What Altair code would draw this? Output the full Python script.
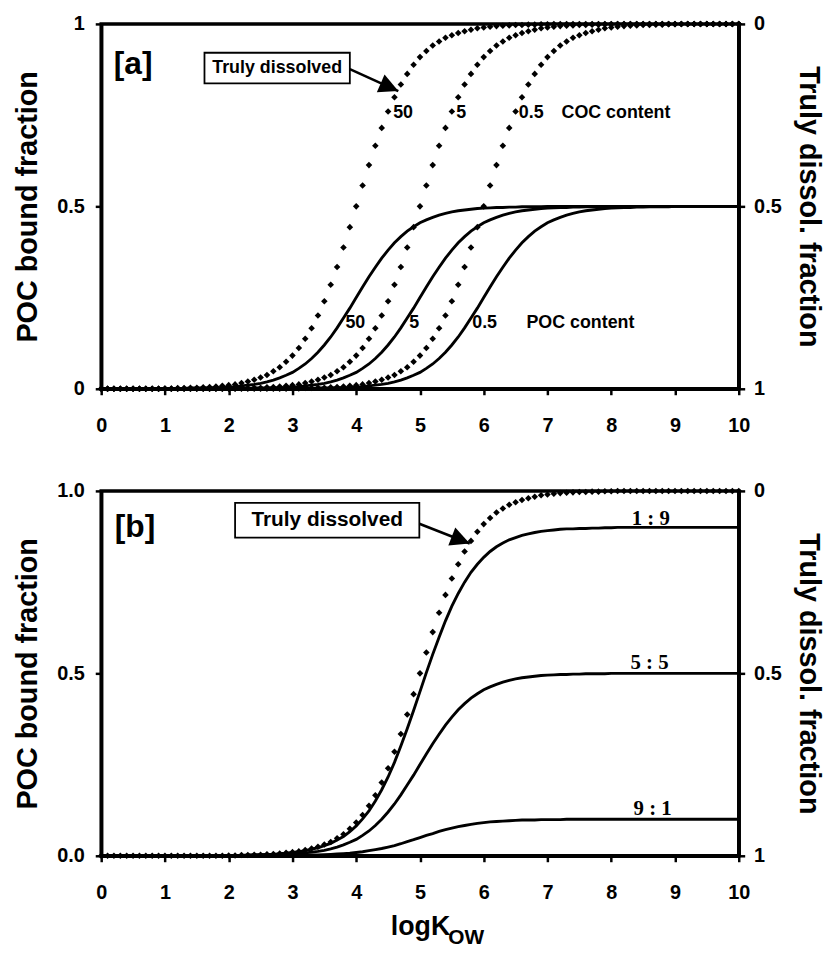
import altair as alt
import pandas as pd

# ---------------- data ----------------
LOGKOW = [0.0, 0.1, 0.2, 0.3, 0.4, 0.5, 0.6, 0.7, 0.8, 0.9,
          1.0, 1.1, 1.2, 1.3, 1.4, 1.5, 1.6, 1.7, 1.8, 1.9,
          2.0, 2.1, 2.2, 2.3, 2.4, 2.5, 2.6, 2.7, 2.8, 2.9,
          3.0, 3.1, 3.2, 3.3, 3.4, 3.5, 3.6, 3.7, 3.8, 3.9,
          4.0, 4.1, 4.2, 4.3, 4.4, 4.5, 4.6, 4.7, 4.8, 4.9,
          5.0, 5.1, 5.2, 5.3, 5.4, 5.5, 5.6, 5.7, 5.8, 5.9,
          6.0, 6.1, 6.2, 6.3, 6.4, 6.5, 6.6, 6.7, 6.8, 6.9,
          7.0, 7.1, 7.2, 7.3, 7.4, 7.5, 7.6, 7.7, 7.8, 7.9,
          8.0, 8.1, 8.2, 8.3, 8.4, 8.5, 8.6, 8.7, 8.8, 8.9,
          9.0, 9.1, 9.2, 9.3, 9.4, 9.5, 9.6, 9.7, 9.8, 9.9,
          10.0]

# Panel a - truly dissolved fraction (right axis), COC content 50 / 5 / 0.5
DISS_A_50 = [1, 1, 1, 1, 1, 1, 1, 1, 1, 1,
             0.999, 0.999, 0.998, 0.998, 0.997, 0.997, 0.996, 0.995, 0.994, 0.992,
             0.990, 0.988, 0.984, 0.980, 0.975, 0.969, 0.962, 0.952, 0.941, 0.926,
             0.909, 0.888, 0.863, 0.834, 0.799, 0.760, 0.715, 0.666, 0.613, 0.557,
             0.500, 0.443, 0.387, 0.334, 0.285, 0.240, 0.201, 0.166, 0.137, 0.112,
             0.091, 0.074, 0.059, 0.048, 0.038, 0.031, 0.025, 0.020, 0.016, 0.012,
             0.010, 0.008, 0.006, 0.005, 0.004, 0.003, 0.003, 0.002, 0.002, 0.001,
             0.001, 0, 0, 0, 0, 0, 0, 0, 0, 0,
             0, 0, 0, 0, 0, 0, 0, 0, 0, 0,
             0, 0, 0, 0, 0, 0, 0, 0, 0, 0,
             0]
DISS_A_5 = [1, 1, 1, 1, 1, 1, 1, 1, 1, 1,
            1, 1, 1, 1, 1, 1, 1, 1, 1, 1,
            0.999, 0.999, 0.998, 0.998, 0.997, 0.997, 0.996, 0.995, 0.994, 0.992,
            0.990, 0.988, 0.984, 0.980, 0.975, 0.969, 0.962, 0.952, 0.941, 0.926,
            0.909, 0.888, 0.863, 0.834, 0.799, 0.760, 0.715, 0.666, 0.613, 0.557,
            0.500, 0.443, 0.387, 0.334, 0.285, 0.240, 0.201, 0.166, 0.137, 0.112,
            0.091, 0.074, 0.059, 0.048, 0.038, 0.031, 0.025, 0.020, 0.016, 0.012,
            0.010, 0.008, 0.006, 0.005, 0.004, 0.003, 0.003, 0.002, 0.002, 0.001,
            0.001, 0, 0, 0, 0, 0, 0, 0, 0, 0,
            0, 0, 0, 0, 0, 0, 0, 0, 0, 0,
            0]
DISS_A_05 = [1, 1, 1, 1, 1, 1, 1, 1, 1, 1,
             1, 1, 1, 1, 1, 1, 1, 1, 1, 1,
             1, 1, 1, 1, 1, 1, 1, 1, 1, 1,
             0.999, 0.999, 0.998, 0.998, 0.997, 0.997, 0.996, 0.995, 0.994, 0.992,
             0.990, 0.988, 0.984, 0.980, 0.975, 0.969, 0.962, 0.952, 0.941, 0.926,
             0.909, 0.888, 0.863, 0.834, 0.799, 0.760, 0.715, 0.666, 0.613, 0.557,
             0.500, 0.443, 0.387, 0.334, 0.285, 0.240, 0.201, 0.166, 0.137, 0.112,
             0.091, 0.074, 0.059, 0.048, 0.038, 0.031, 0.025, 0.020, 0.016, 0.012,
             0.010, 0.008, 0.006, 0.005, 0.004, 0.003, 0.003, 0.002, 0.002, 0.001,
             0.001, 0, 0, 0, 0, 0, 0, 0, 0, 0,
             0]

# Panel a - POC bound fraction (left axis), POC content 50 / 5 / 0.5
POC_A_50 = [0, 0, 0, 0, 0, 0, 0, 0, 0, 0,
            0.001, 0.001, 0.001, 0.001, 0.002, 0.002, 0.002, 0.003, 0.003, 0.004,
            0.005, 0.006, 0.008, 0.010, 0.012, 0.015, 0.019, 0.024, 0.030, 0.037,
            0.045, 0.056, 0.068, 0.083, 0.100, 0.120, 0.142, 0.167, 0.194, 0.221,
            0.250, 0.279, 0.307, 0.333, 0.358, 0.380, 0.400, 0.417, 0.432, 0.444,
            0.455, 0.463, 0.470, 0.476, 0.481, 0.485, 0.488, 0.490, 0.492, 0.494,
            0.495, 0.496, 0.497, 0.497, 0.498, 0.498, 0.499, 0.499, 0.499, 0.499,
            0.5, 0.5, 0.5, 0.5, 0.5, 0.5, 0.5, 0.5, 0.5, 0.5,
            0.5, 0.5, 0.5, 0.5, 0.5, 0.5, 0.5, 0.5, 0.5, 0.5,
            0.5, 0.5, 0.5, 0.5, 0.5, 0.5, 0.5, 0.5, 0.5, 0.5,
            0.5]
POC_A_5 = [0, 0, 0, 0, 0, 0, 0, 0, 0, 0,
           0, 0, 0, 0, 0, 0, 0, 0, 0, 0,
           0.001, 0.001, 0.001, 0.001, 0.002, 0.002, 0.002, 0.003, 0.003, 0.004,
           0.005, 0.006, 0.008, 0.010, 0.012, 0.015, 0.019, 0.024, 0.030, 0.037,
           0.045, 0.056, 0.068, 0.083, 0.100, 0.120, 0.142, 0.167, 0.194, 0.221,
           0.250, 0.279, 0.307, 0.333, 0.358, 0.380, 0.400, 0.417, 0.432, 0.444,
           0.455, 0.463, 0.470, 0.476, 0.481, 0.485, 0.488, 0.490, 0.492, 0.494,
           0.495, 0.496, 0.497, 0.497, 0.498, 0.498, 0.499, 0.499, 0.499, 0.499,
           0.5, 0.5, 0.5, 0.5, 0.5, 0.5, 0.5, 0.5, 0.5, 0.5,
           0.5, 0.5, 0.5, 0.5, 0.5, 0.5, 0.5, 0.5, 0.5, 0.5,
           0.5]
POC_A_05 = [0, 0, 0, 0, 0, 0, 0, 0, 0, 0,
            0, 0, 0, 0, 0, 0, 0, 0, 0, 0,
            0, 0, 0, 0, 0, 0, 0, 0, 0, 0,
            0.001, 0.001, 0.001, 0.001, 0.002, 0.002, 0.002, 0.003, 0.003, 0.004,
            0.005, 0.006, 0.008, 0.010, 0.012, 0.015, 0.019, 0.024, 0.030, 0.037,
            0.045, 0.056, 0.068, 0.083, 0.100, 0.120, 0.142, 0.167, 0.194, 0.221,
            0.250, 0.279, 0.307, 0.333, 0.358, 0.380, 0.400, 0.417, 0.432, 0.444,
            0.455, 0.463, 0.470, 0.476, 0.481, 0.485, 0.488, 0.490, 0.492, 0.494,
            0.495, 0.496, 0.497, 0.497, 0.498, 0.498, 0.499, 0.499, 0.499, 0.499,
            0.5, 0.5, 0.5, 0.5, 0.5, 0.5, 0.5, 0.5, 0.5, 0.5,
            0.5]

# Panel b - truly dissolved fraction
DISS_B = [1, 1, 1, 1, 1, 1, 1, 1, 1, 1,
          1, 1, 1, 1, 1, 1, 1, 1, 1, 1,
          0.999, 0.999, 0.998, 0.998, 0.997, 0.997, 0.996, 0.995, 0.994, 0.992,
          0.990, 0.988, 0.984, 0.980, 0.975, 0.969, 0.962, 0.952, 0.941, 0.926,
          0.909, 0.888, 0.863, 0.834, 0.799, 0.760, 0.715, 0.666, 0.613, 0.557,
          0.500, 0.443, 0.387, 0.334, 0.285, 0.240, 0.201, 0.166, 0.137, 0.112,
          0.091, 0.074, 0.059, 0.048, 0.038, 0.031, 0.025, 0.020, 0.016, 0.012,
          0.010, 0.008, 0.006, 0.005, 0.004, 0.003, 0.003, 0.002, 0.002, 0.001,
          0.001, 0, 0, 0, 0, 0, 0, 0, 0, 0,
          0, 0, 0, 0, 0, 0, 0, 0, 0, 0,
          0]
# Panel b - POC bound fraction for POC : COC ratios
POC_B_19 = [0, 0, 0, 0, 0, 0, 0, 0, 0, 0,
            0, 0, 0, 0, 0, 0, 0, 0, 0, 0,
            0.001, 0.001, 0.001, 0.002, 0.002, 0.003, 0.004, 0.004, 0.006, 0.007,
            0.009, 0.011, 0.014, 0.018, 0.022, 0.028, 0.034, 0.043, 0.053, 0.066,
            0.082, 0.101, 0.123, 0.150, 0.181, 0.216, 0.256, 0.301, 0.348, 0.398,
            0.450, 0.502, 0.552, 0.599, 0.644, 0.684, 0.719, 0.750, 0.777, 0.799,
            0.818, 0.834, 0.847, 0.857, 0.866, 0.872, 0.878, 0.882, 0.886, 0.889,
            0.891, 0.893, 0.895, 0.896, 0.896, 0.897, 0.897, 0.898, 0.898, 0.899,
            0.899, 0.9, 0.9, 0.9, 0.9, 0.9, 0.9, 0.9, 0.9, 0.9,
            0.9, 0.9, 0.9, 0.9, 0.9, 0.9, 0.9, 0.9, 0.9, 0.9,
            0.9]
POC_B_55 = [0, 0, 0, 0, 0, 0, 0, 0, 0, 0,
            0, 0, 0, 0, 0, 0, 0, 0, 0, 0,
            0.001, 0.001, 0.001, 0.001, 0.002, 0.002, 0.002, 0.003, 0.003, 0.004,
            0.005, 0.006, 0.008, 0.010, 0.012, 0.015, 0.019, 0.024, 0.030, 0.037,
            0.045, 0.056, 0.068, 0.083, 0.100, 0.120, 0.142, 0.167, 0.194, 0.221,
            0.250, 0.279, 0.307, 0.333, 0.358, 0.380, 0.400, 0.417, 0.432, 0.444,
            0.455, 0.463, 0.470, 0.476, 0.481, 0.485, 0.488, 0.490, 0.492, 0.494,
            0.495, 0.496, 0.497, 0.497, 0.498, 0.498, 0.499, 0.499, 0.499, 0.499,
            0.5, 0.5, 0.5, 0.5, 0.5, 0.5, 0.5, 0.5, 0.5, 0.5,
            0.5, 0.5, 0.5, 0.5, 0.5, 0.5, 0.5, 0.5, 0.5, 0.5,
            0.5]
POC_B_91 = [0, 0, 0, 0, 0, 0, 0, 0, 0, 0,
            0, 0, 0, 0, 0, 0, 0, 0, 0, 0,
            0, 0, 0, 0, 0, 0, 0, 0.001, 0.001, 0.001,
            0.001, 0.001, 0.002, 0.002, 0.002, 0.003, 0.004, 0.005, 0.006, 0.007,
            0.009, 0.011, 0.014, 0.017, 0.020, 0.024, 0.028, 0.033, 0.039, 0.044,
            0.050, 0.056, 0.061, 0.067, 0.072, 0.076, 0.080, 0.083, 0.086, 0.089,
            0.091, 0.093, 0.094, 0.095, 0.096, 0.097, 0.098, 0.098, 0.098, 0.099,
            0.099, 0.099, 0.099, 0.1, 0.1, 0.1, 0.1, 0.1, 0.1, 0.1,
            0.1, 0.1, 0.1, 0.1, 0.1, 0.1, 0.1, 0.1, 0.1, 0.1,
            0.1, 0.1, 0.1, 0.1, 0.1, 0.1, 0.1, 0.1, 0.1, 0.1,
            0.1]

# annotation texts
A_CURVE_LABELS = ["50", "5", "0.5", "COC content", "50", "5", "0.5", "POC content"]
A_CURVE_LABEL_X = [4.58, 5.57, 6.55, 7.22, 3.83, 4.83, 5.82, 6.67]
A_CURVE_LABEL_Y = [0.755, 0.755, 0.755, 0.755, 0.18, 0.18, 0.18, 0.18]
B_RATIO_LABELS = ["1  :  9", "5  :  5", "9  :  1"]
B_RATIO_X = [8.62, 8.60, 8.65]
B_RATIO_Y = [0.907, 0.511, 0.112]

FONT = "Liberation Sans"
W, H = 643, 368


def long_df(series, field):
    rows = []
    for name, vals in series.items():
        for xv, yv in zip(LOGKOW, vals):
            rows.append({"x": xv, field: yv, "s": name})
    return pd.DataFrame(rows)


X_ENC = alt.X("x:Q", scale=alt.Scale(domain=[0, 10], nice=False, zero=False),
              axis=alt.Axis(values=list(range(11)), format="d", title=None,
                            labelPadding=21))


def y_left(fmt):
    return alt.Y("y:Q", scale=alt.Scale(domain=[0, 1], nice=False, zero=False),
                 axis=alt.Axis(values=[0, 0.5, 1], format=fmt, title="POC bound fraction",
                               labelPadding=11, titlePadding=14))


Y_RIGHT = alt.Y("d:Q", scale=alt.Scale(domain=[0, 1], reverse=True, nice=False, zero=False),
                axis=alt.Axis(orient="right", values=[0, 0.5, 1], format="~g",
                              title="Truly dissol. fraction", labelPadding=9, titlePadding=12))


def panel(diss, poc, fmt, tag, tag_xy, box, box_text, box_fs, arrow, angle,
          texts, extra=None):
    yl = y_left(fmt)
    lines = alt.Chart(long_df(poc, "y")).mark_line(color="black", strokeWidth=2.9).encode(
        x=X_ENC, y=yl, detail="s:N")
    rect = alt.Chart(pd.DataFrame([{"x": box[0], "x2": box[1], "y": box[2], "y2": box[3]}])).mark_rect(
        fill="white", stroke="black", strokeWidth=1.8).encode(
        x=X_ENC, x2="x2:Q", y=yl, y2="y2:Q")
    boxtxt = alt.Chart(pd.DataFrame([{"x": (box[0] + box[1]) / 2, "y": (box[2] + box[3]) / 2,
                                      "t": box_text}])).mark_text(
        font=FONT, fontWeight="bold", fontSize=box_fs, align="center", baseline="middle",
        color="black").encode(x=X_ENC, y=yl, text="t:N")
    arr = pd.DataFrame([{"x": arrow[0], "y": arrow[1], "x2": arrow[2], "y2": arrow[3]}])
    shaft = alt.Chart(arr).mark_rule(color="black", strokeWidth=2.6).encode(
        x=X_ENC, x2="x2:Q", y=yl, y2="y2:Q")
    head = alt.Chart(pd.DataFrame([{"x": arrow[2], "y": arrow[3]}])).mark_point(
        shape="M0,0L-1,-0.5L-1,0.5Z", filled=True, color="black", opacity=1,
        angle=angle, strokeWidth=0).encode(x=X_ENC, y=yl, size=alt.value(1500))
    tagtxt = alt.Chart(pd.DataFrame([{"x": tag_xy[0], "y": tag_xy[1], "t": tag}])).mark_text(
        font=FONT, fontWeight="bold", fontSize=32, align="center", baseline="middle",
        color="black").encode(x=X_ENC, y=yl, text="t:N")
    layers = [lines, rect, boxtxt, shaft, head, tagtxt] + texts
    if extra:
        layers += extra
    left = alt.layer(*layers)
    dots = alt.Chart(long_df(diss, "d")).mark_point(
        shape="diamond", filled=True, color="black", opacity=1, strokeWidth=0).encode(
        x=X_ENC, y=Y_RIGHT, detail="s:N", size=alt.value(44))
    return alt.layer(left, dots).resolve_scale(y="independent").properties(width=W, height=H)


# ---- panel a ----
yl_a = y_left("~g")
a_labels = alt.Chart(pd.DataFrame({"x": A_CURVE_LABEL_X, "y": A_CURVE_LABEL_Y,
                                   "t": A_CURVE_LABELS})).mark_text(
    font=FONT, fontWeight="bold", fontSize=18, align="left", baseline="middle",
    color="black").encode(x=X_ENC, y=yl_a, text="t:N")

panel_a = panel(
    {"50": DISS_A_50, "5": DISS_A_5, "0.5": DISS_A_05},
    {"50": POC_A_50, "5": POC_A_5, "0.5": POC_A_05},
    "~g", "[a]", (0.50, 0.891),
    (1.62, 3.90, 0.837, 0.921), "Truly dissolved", 18,
    (3.90, 0.876, 4.66, 0.816), 23.6, [a_labels])

# ---- panel b ----
yl_b = y_left(".1f")
b_labels = alt.Chart(pd.DataFrame({"x": B_RATIO_X, "y": B_RATIO_Y,
                                   "t": B_RATIO_LABELS})).mark_text(
    font="Liberation Serif", fontWeight="bold", fontSize=21, align="center",
    baseline="alphabetic", color="black").encode(x=X_ENC, y=yl_b, text="t:N")
xt1 = alt.Chart(pd.DataFrame([{"t": "logK"}])).mark_text(
    font=FONT, fontWeight="bold", fontSize=27, align="right", baseline="alphabetic",
    color="black").encode(x=alt.value(352), y=alt.value(448), text="t:N")
xt2 = alt.Chart(pd.DataFrame([{"t": "OW"}])).mark_text(
    font=FONT, fontWeight="bold", fontSize=21, align="left", baseline="alphabetic",
    color="black").encode(x=alt.value(350), y=alt.value(457), text="t:N")

panel_b = panel(
    {"b": DISS_B},
    {"1:9": POC_B_19, "5:5": POC_B_55, "9:1": POC_B_91},
    ".1f", "[b]", (0.53, 0.902),
    (2.10, 4.99, 0.872, 0.967), "Truly dissolved", 21,
    (4.99, 0.910, 5.78, 0.856), 21.3, [b_labels], extra=[xt1, xt2])

chart = alt.vconcat(panel_a, panel_b, spacing=42).properties(
    padding={"left": 4, "top": 0, "right": 1, "bottom": 0}
).configure_view(
    stroke="black", strokeWidth=3.5
).configure_axis(
    domainColor="black", domainWidth=3.5, tickColor="black", tickWidth=2.5, tickSize=6,
    labelFont=FONT, labelFontWeight="bold", labelFontSize=20, labelColor="black",
    titleFont=FONT, titleFontWeight="bold", titleFontSize=29, titleColor="black",
    labelFlush=False, grid=False, labelOverlap=False
)

chart.save("out.html", embed_options={"renderer": "svg", "actions": False})
